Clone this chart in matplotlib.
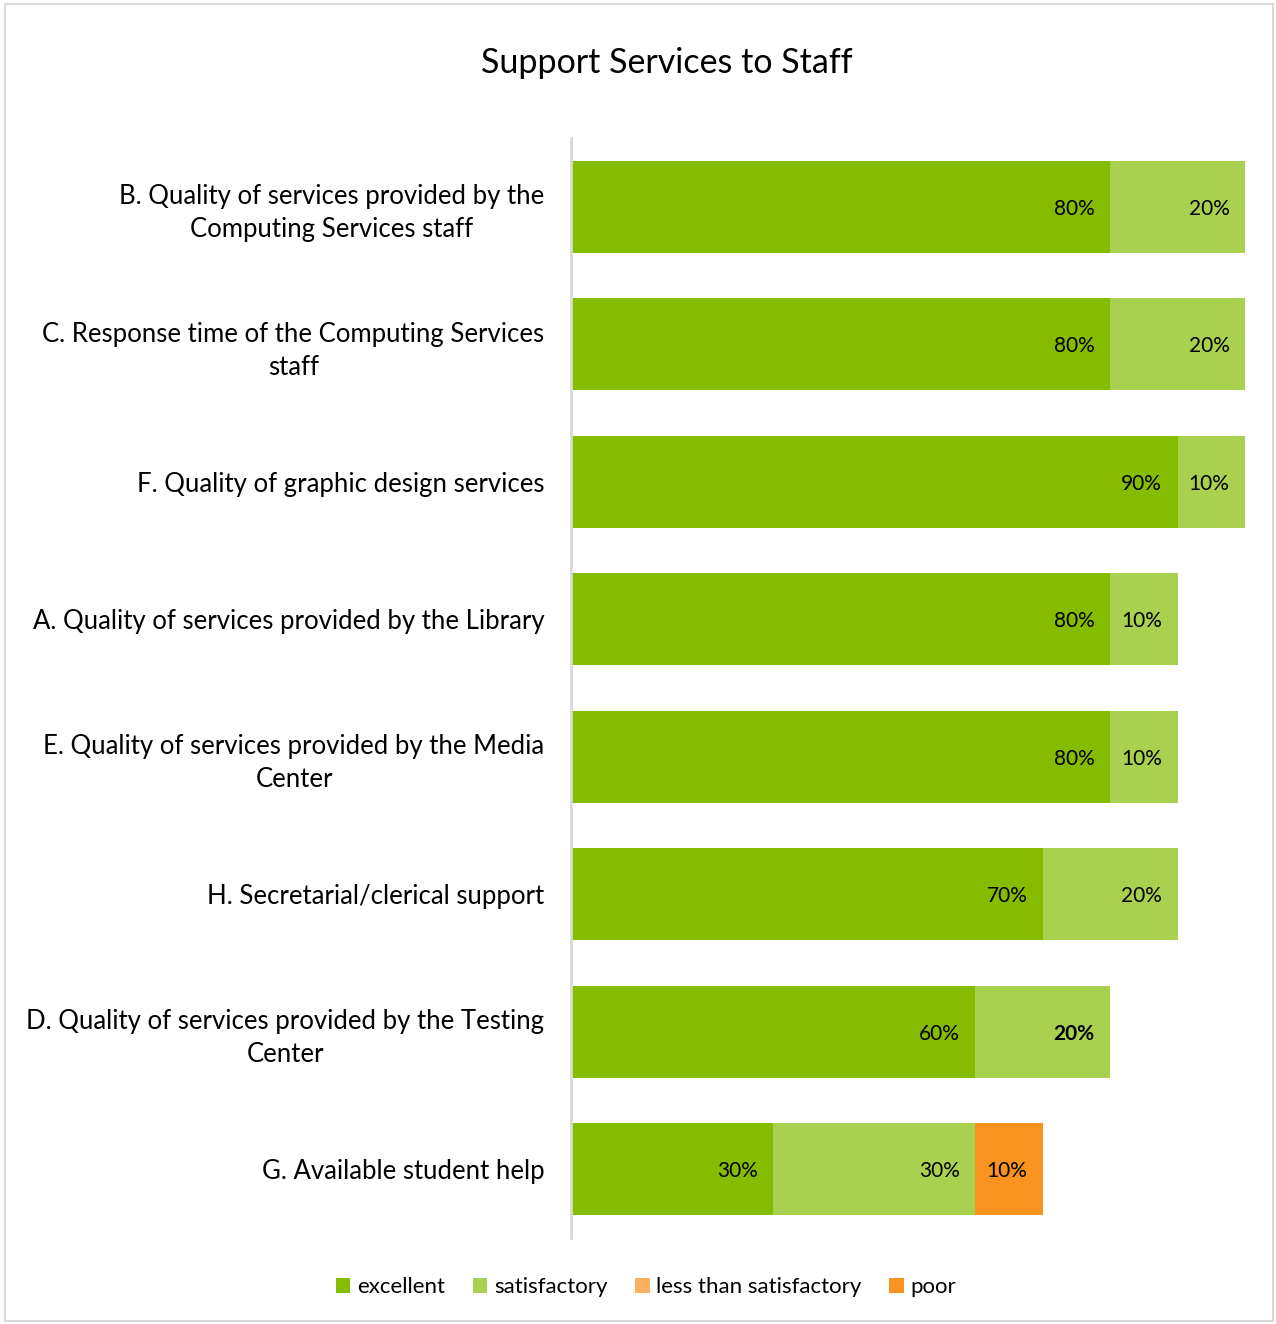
import matplotlib.pyplot as plt
from matplotlib.patches import Rectangle

plt.rcParams['font.family'] = ['Lato', 'DejaVu Sans']

categories = [
    "B. Quality of services provided by the\nComputing Services staff",
    "C. Response time of the Computing Services\nstaff",
    "F. Quality of graphic design services",
    "A. Quality of services provided by the Library",
    "E. Quality of services provided by the Media\nCenter",
    "H. Secretarial/clerical support",
    "D. Quality of services provided by the Testing\nCenter",
    "G. Available student help",
]
excellent = [80, 80, 90, 80, 80, 70, 60, 30]
satisfactory = [20, 20, 10, 10, 10, 20, 20, 30]
less_than = [0, 0, 0, 0, 0, 0, 0, 0]
poor = [0, 0, 0, 0, 0, 0, 0, 10]

series = [
    ("excellent", excellent, "#86BC00"),
    ("satisfactory", satisfactory, "#A9D04F"),
    ("less than satisfactory", less_than, "#F9B05F"),
    ("poor", poor, "#F7931E"),
]

fig = plt.figure(figsize=(12.76, 13.24), dpi=100)
ax = fig.add_axes([571 / 1276, 1 - 1238 / 1324, (1245 - 571) / 1276, 1100 / 1324])

# light border round the chart area
fig.patches.append(Rectangle((5 / 1276, 0.002), 1268 / 1276, 1 - 4 / 1324 - 0.002,
                             transform=fig.transFigure, fill=False,
                             edgecolor="#D9D9D9", linewidth=1.5))

y = range(len(categories))
left = [0] * len(categories)
for name, vals, color in series:
    bars = ax.barh(y, vals, left=left, height=0.67, color=color, label=name)
    for bar, v in zip(bars, vals):
        if v > 0:
            bold = name == "satisfactory" and bar.get_x() == 60
            ax.text(bar.get_x() + bar.get_width() - 2.3, bar.get_y() + bar.get_height() / 2,
                    f"{v}%", ha="right", va="center_baseline", fontsize=15, color="black",
                    fontweight="bold" if bold else "normal")
    left = [l + v for l, v in zip(left, vals)]

ax.set_xlim(0, 100)
ax.set_ylim(7.5, -0.5)
ax.set_yticks(list(y))
ax.set_yticklabels(categories, fontsize=18.5, multialignment="center", linespacing=1.4)
ax.tick_params(axis="y", length=0, pad=19)
ax.set_xticks([])
for s in ["top", "right", "bottom"]:
    ax.spines[s].set_visible(False)
ax.spines["left"].set_color("#D9D9D9")
ax.spines["left"].set_linewidth(2)

fig.text(667 / 1276, 1 - 63 / 1324, "Support Services to Staff", ha="center", va="center",
         fontsize=24.5)

fig.legend(loc="center", bbox_to_anchor=(646 / 1276, 1 - 1287 / 1324), ncol=4, frameon=False,
           fontsize=16, handlelength=0.65, handleheight=0.65, handletextpad=0.3,
           columnspacing=1.25)

plt.savefig("out.png", dpi=100)
